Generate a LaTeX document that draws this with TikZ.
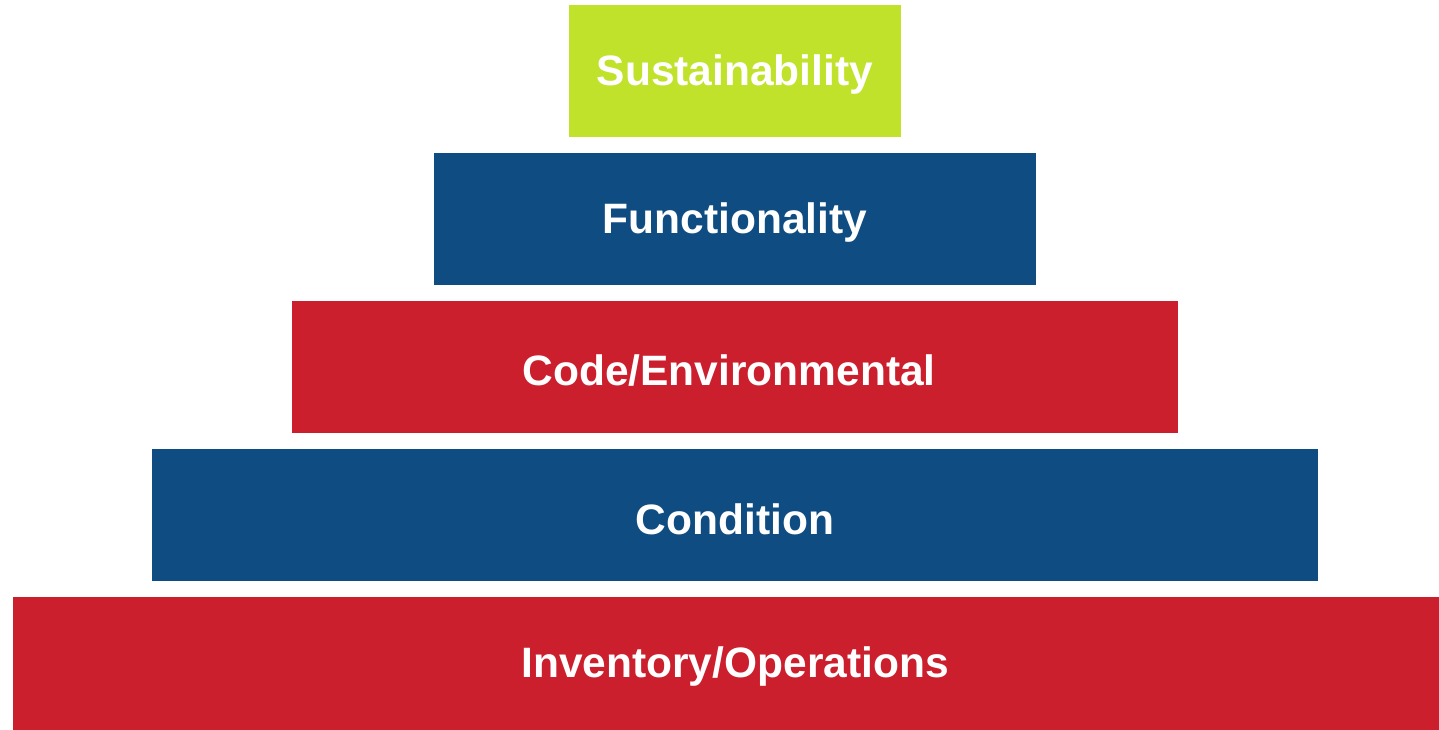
\documentclass[tikz,border=0pt]{standalone}
\usepackage{fontspec}
\setmainfont{Liberation Sans}
\definecolor{lime}{HTML}{C0E22A}
\definecolor{navy}{HTML}{0F4C81}
\definecolor{crim}{HTML}{CC1F2E}
\begin{document}
\begin{tikzpicture}[x=1pt,y=-1pt,
  tier/.style={inner sep=0pt, outer sep=0pt, text=white, font=\fontsize{42.5}{50}\selectfont\bfseries}]
\useasboundingbox (0,0) rectangle (1439,730);
\fill[lime] (569,5) rectangle (901,137);
\node[tier] (s) at (735,75) {Sustainability};
\fill[navy] (434,153) rectangle (1036,285);
\node[tier] (f) at (735,223) {Functionality};
\fill[crim] (292,301) rectangle (1178,433);
\node[tier] (c) at (729,371) {Code/Environmental};
\fill[navy] (152,449) rectangle (1318,581);
\node[tier] (k) at (735,519) {Condition};
\fill[crim] (13,597) rectangle (1439,730);
\node[tier] (i) at (735,667) {Inventory/Operations};
\end{tikzpicture}
\end{document}
